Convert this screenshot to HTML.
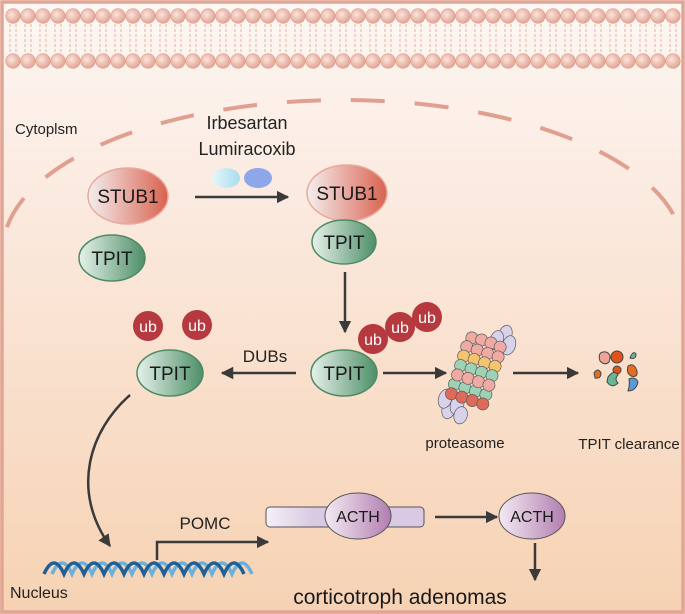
<!DOCTYPE html>
<html><head><meta charset="utf-8"><style>
html,body{margin:0;padding:0;width:685px;height:614px;overflow:hidden;background:#fff}
svg{display:block;font-family:"Liberation Sans",Arial,sans-serif}
</style></head><body>
<svg width="685" height="614" viewBox="0 0 685 614" xmlns="http://www.w3.org/2000/svg">
<defs>
<linearGradient id="bg" x1="0" y1="0" x2="0" y2="1">
<stop offset="0" stop-color="#fdf7f3"/><stop offset="0.35" stop-color="#fbe9de"/><stop offset="1" stop-color="#f6d2b3"/>
</linearGradient>
<radialGradient id="ball" cx="0.4" cy="0.4" r="0.6">
<stop offset="0" stop-color="#fbe4dc"/><stop offset="1" stop-color="#e3a595"/>
</radialGradient>
<linearGradient id="red" x1="0" y1="0" x2="1" y2="0">
<stop offset="0" stop-color="#f4eeee"/><stop offset="1" stop-color="#d9624f"/>
</linearGradient>
<linearGradient id="grn" x1="0" y1="0" x2="1" y2="0">
<stop offset="0" stop-color="#e6f1ea"/><stop offset="1" stop-color="#4e8f68"/>
</linearGradient>
<linearGradient id="pur" x1="0" y1="0" x2="1" y2="0">
<stop offset="0" stop-color="#f3eaf3"/><stop offset="1" stop-color="#b27eb0"/>
</linearGradient>
<linearGradient id="bar" x1="0" y1="0" x2="1" y2="0">
<stop offset="0" stop-color="#f5f0f7"/><stop offset="0.3" stop-color="#d9c9e3"/><stop offset="1" stop-color="#d9c9e3"/>
</linearGradient>
<linearGradient id="pill1" x1="0" y1="0" x2="1" y2="0">
<stop offset="0" stop-color="#e6f6fb"/><stop offset="1" stop-color="#a9dcec"/>
</linearGradient>
<marker id="ah" viewBox="0 0 10 10" refX="9" refY="5" markerWidth="5" markerHeight="5" orient="auto">
<path d="M0,0 L10,5 L0,10 z" fill="#3a3a3a"/>
</marker>
<clipPath id="inner"><rect x="4" y="4" width="677" height="606"/></clipPath>
<clipPath id="arcclip"><rect x="4" y="80" width="677" height="158"/></clipPath>
</defs>
<rect x="0" y="0" width="685" height="614" fill="url(#bg)"/>
<rect x="2" y="2" width="681" height="610" fill="none" stroke="#e2a594" stroke-width="3.5"/>
<g clip-path="url(#inner)">
<path d="M10,24 V54 M16,24 V54 M25,24 V54 M31,24 V54 M40,24 V54 M46,24 V54 M55,24 V54 M61,24 V54 M70,24 V54 M76,24 V54 M85,24 V54 M91,24 V54 M100,24 V54 M106,24 V54 M115,24 V54 M121,24 V54 M130,24 V54 M136,24 V54 M145,24 V54 M151,24 V54 M160,24 V54 M166,24 V54 M175,24 V54 M181,24 V54 M190,24 V54 M196,24 V54 M205,24 V54 M211,24 V54 M220,24 V54 M226,24 V54 M235,24 V54 M241,24 V54 M250,24 V54 M256,24 V54 M265,24 V54 M271,24 V54 M280,24 V54 M286,24 V54 M295,24 V54 M301,24 V54 M310,24 V54 M316,24 V54 M325,24 V54 M331,24 V54 M340,24 V54 M346,24 V54 M355,24 V54 M361,24 V54 M370,24 V54 M376,24 V54 M385,24 V54 M391,24 V54 M400,24 V54 M406,24 V54 M415,24 V54 M421,24 V54 M430,24 V54 M436,24 V54 M445,24 V54 M451,24 V54 M460,24 V54 M466,24 V54 M475,24 V54 M481,24 V54 M490,24 V54 M496,24 V54 M505,24 V54 M511,24 V54 M520,24 V54 M526,24 V54 M535,24 V54 M541,24 V54 M550,24 V54 M556,24 V54 M565,24 V54 M571,24 V54 M580,24 V54 M586,24 V54 M595,24 V54 M601,24 V54 M610,24 V54 M616,24 V54 M625,24 V54 M631,24 V54 M640,24 V54 M646,24 V54 M655,24 V54 M661,24 V54 M670,24 V54 M676,24 V54" stroke="#e6b2a4" stroke-width="1" stroke-dasharray="3 2" fill="none"/>
<g fill="url(#ball)" stroke="#de9e8e" stroke-width="0.6">
<circle cx="13" cy="16" r="7.3"/><circle cx="28" cy="16" r="7.3"/><circle cx="43" cy="16" r="7.3"/><circle cx="58" cy="16" r="7.3"/><circle cx="73" cy="16" r="7.3"/><circle cx="88" cy="16" r="7.3"/><circle cx="103" cy="16" r="7.3"/><circle cx="118" cy="16" r="7.3"/><circle cx="133" cy="16" r="7.3"/><circle cx="148" cy="16" r="7.3"/><circle cx="163" cy="16" r="7.3"/><circle cx="178" cy="16" r="7.3"/><circle cx="193" cy="16" r="7.3"/><circle cx="208" cy="16" r="7.3"/><circle cx="223" cy="16" r="7.3"/><circle cx="238" cy="16" r="7.3"/><circle cx="253" cy="16" r="7.3"/><circle cx="268" cy="16" r="7.3"/><circle cx="283" cy="16" r="7.3"/><circle cx="298" cy="16" r="7.3"/><circle cx="313" cy="16" r="7.3"/><circle cx="328" cy="16" r="7.3"/><circle cx="343" cy="16" r="7.3"/><circle cx="358" cy="16" r="7.3"/><circle cx="373" cy="16" r="7.3"/><circle cx="388" cy="16" r="7.3"/><circle cx="403" cy="16" r="7.3"/><circle cx="418" cy="16" r="7.3"/><circle cx="433" cy="16" r="7.3"/><circle cx="448" cy="16" r="7.3"/><circle cx="463" cy="16" r="7.3"/><circle cx="478" cy="16" r="7.3"/><circle cx="493" cy="16" r="7.3"/><circle cx="508" cy="16" r="7.3"/><circle cx="523" cy="16" r="7.3"/><circle cx="538" cy="16" r="7.3"/><circle cx="553" cy="16" r="7.3"/><circle cx="568" cy="16" r="7.3"/><circle cx="583" cy="16" r="7.3"/><circle cx="598" cy="16" r="7.3"/><circle cx="613" cy="16" r="7.3"/><circle cx="628" cy="16" r="7.3"/><circle cx="643" cy="16" r="7.3"/><circle cx="658" cy="16" r="7.3"/><circle cx="673" cy="16" r="7.3"/>
<circle cx="13" cy="61" r="7.3"/><circle cx="28" cy="61" r="7.3"/><circle cx="43" cy="61" r="7.3"/><circle cx="58" cy="61" r="7.3"/><circle cx="73" cy="61" r="7.3"/><circle cx="88" cy="61" r="7.3"/><circle cx="103" cy="61" r="7.3"/><circle cx="118" cy="61" r="7.3"/><circle cx="133" cy="61" r="7.3"/><circle cx="148" cy="61" r="7.3"/><circle cx="163" cy="61" r="7.3"/><circle cx="178" cy="61" r="7.3"/><circle cx="193" cy="61" r="7.3"/><circle cx="208" cy="61" r="7.3"/><circle cx="223" cy="61" r="7.3"/><circle cx="238" cy="61" r="7.3"/><circle cx="253" cy="61" r="7.3"/><circle cx="268" cy="61" r="7.3"/><circle cx="283" cy="61" r="7.3"/><circle cx="298" cy="61" r="7.3"/><circle cx="313" cy="61" r="7.3"/><circle cx="328" cy="61" r="7.3"/><circle cx="343" cy="61" r="7.3"/><circle cx="358" cy="61" r="7.3"/><circle cx="373" cy="61" r="7.3"/><circle cx="388" cy="61" r="7.3"/><circle cx="403" cy="61" r="7.3"/><circle cx="418" cy="61" r="7.3"/><circle cx="433" cy="61" r="7.3"/><circle cx="448" cy="61" r="7.3"/><circle cx="463" cy="61" r="7.3"/><circle cx="478" cy="61" r="7.3"/><circle cx="493" cy="61" r="7.3"/><circle cx="508" cy="61" r="7.3"/><circle cx="523" cy="61" r="7.3"/><circle cx="538" cy="61" r="7.3"/><circle cx="553" cy="61" r="7.3"/><circle cx="568" cy="61" r="7.3"/><circle cx="583" cy="61" r="7.3"/><circle cx="598" cy="61" r="7.3"/><circle cx="613" cy="61" r="7.3"/><circle cx="628" cy="61" r="7.3"/><circle cx="643" cy="61" r="7.3"/><circle cx="658" cy="61" r="7.3"/><circle cx="673" cy="61" r="7.3"/>
</g>
</g>
<!-- nuclear envelope -->
<ellipse cx="343" cy="250" rx="340" ry="150" fill="none" stroke="#e0a090" stroke-width="4" stroke-dasharray="34 30" stroke-dashoffset="10" clip-path="url(#arcclip)"/>
<!-- labels -->
<text x="15" y="134" font-size="15" fill="#222">Cytoplsm</text>
<text x="247" y="129" font-size="18" fill="#222" text-anchor="middle">Irbesartan</text>
<text x="247" y="155" font-size="18" fill="#222" text-anchor="middle">Lumiracoxib</text>
<ellipse cx="226" cy="178" rx="14" ry="10" fill="url(#pill1)"/>
<ellipse cx="258" cy="178" rx="14" ry="10" fill="#8ea6ea"/>
<g stroke-width="1.5">
<ellipse cx="128" cy="196" rx="40" ry="28" fill="url(#red)" stroke="#e9a99b"/>
<ellipse cx="112" cy="258" rx="33" ry="23" fill="url(#grn)" stroke="#4d8a63"/>
<ellipse cx="347" cy="193" rx="40" ry="28" fill="url(#red)" stroke="#e9a99b"/>
<ellipse cx="344" cy="242" rx="32" ry="22" fill="url(#grn)" stroke="#4d8a63"/>
<ellipse cx="170" cy="373" rx="33" ry="23" fill="url(#grn)" stroke="#4d8a63"/>
<ellipse cx="344" cy="373" rx="33" ry="23" fill="url(#grn)" stroke="#4d8a63"/>
</g>
<g font-size="19" fill="#1a1a1a" text-anchor="middle">
<text x="128" y="203">STUB1</text>
<text x="112" y="265">TPIT</text>
<text x="347" y="200">STUB1</text>
<text x="344" y="249">TPIT</text>
<text x="170" y="380">TPIT</text>
<text x="344" y="380">TPIT</text>
</g>
<g fill="#b5393e"><circle cx="148" cy="326" r="15"/><circle cx="197" cy="325" r="15"/><circle cx="373" cy="339" r="15"/><circle cx="400" cy="327" r="15"/><circle cx="427" cy="317" r="15"/></g>
<g font-size="16" fill="#fff" text-anchor="middle"><text x="148" y="332">ub</text><text x="197" y="331">ub</text><text x="373" y="345">ub</text><text x="400" y="333">ub</text><text x="427" y="323">ub</text></g>
<g stroke="#3a3a3a" stroke-width="2.5" fill="none" marker-end="url(#ah)">
<path d="M195,197 H288"/>
<path d="M345,272 V332"/>
<path d="M296,373 H222"/>
<path d="M383,373 H446"/>
<path d="M513,373 H578"/>
<path d="M130,395 C90,430 70,490 110,546"/>
<path d="M157,560 V542 H268"/>
<path d="M435,517 H497"/>
<path d="M535,543 V580"/>
</g>
<text x="265" y="362" font-size="17" fill="#222" text-anchor="middle">DUBs</text>
<!-- proteasome -->
<g transform="translate(477,372) rotate(18) scale(1.1)" stroke="#555" stroke-width="0.6">
<g fill="#d7d1ea"><ellipse cx="14" cy="-40" rx="6" ry="9"/><ellipse cx="20" cy="-32" rx="6" ry="9"/><ellipse cx="8" cy="-33" rx="6" ry="9"/><ellipse cx="-14" cy="40" rx="6" ry="9"/><ellipse cx="-20" cy="32" rx="6" ry="9"/><ellipse cx="-8" cy="34" rx="6" ry="9"/><ellipse cx="-2" cy="42" rx="6" ry="8"/></g>
<g fill="#eeaaa3"><circle cx="-14" cy="-28" r="5.5"/><circle cx="-5" cy="-29" r="5.5"/><circle cx="4" cy="-29" r="5.5"/><circle cx="13" cy="-28" r="5.5"/><circle cx="-16" cy="-19" r="5.5"/><circle cx="-6" cy="-19" r="5.5"/><circle cx="4" cy="-19" r="5.5"/><circle cx="14" cy="-19" r="5.5"/></g>
<g fill="#f5c46e"><circle cx="-16" cy="-10" r="5.5"/><circle cx="-6" cy="-10" r="5.5"/><circle cx="4" cy="-10" r="5.5"/><circle cx="14" cy="-10" r="5.5"/></g>
<g fill="#9ed2b4"><circle cx="-16" cy="-1" r="5.5"/><circle cx="-6" cy="-1" r="5.5"/><circle cx="4" cy="-1" r="5.5"/><circle cx="14" cy="-1" r="5.5"/><circle cx="-16" cy="17" r="5.5"/><circle cx="-6" cy="17" r="5.5"/><circle cx="4" cy="17" r="5.5"/><circle cx="14" cy="17" r="5.5"/></g>
<g fill="#eeaaa3"><circle cx="-16" cy="8" r="5.5"/><circle cx="-6" cy="8" r="5.5"/><circle cx="4" cy="8" r="5.5"/><circle cx="14" cy="8" r="5.5"/></g>
<g fill="#de6b5a"><circle cx="-16" cy="26" r="5.5"/><circle cx="-6" cy="26" r="5.5"/><circle cx="4" cy="26" r="5.5"/><circle cx="14" cy="26" r="5.5"/></g>
</g>
<g stroke="#444" stroke-width="1">
<path d="M600,361 q-3,-10 6,-9 q6,2 3,10 q-4,4 -9,-1z" fill="#eea399"/>
<circle cx="617" cy="357" r="6" fill="#e0541c"/>
<path d="M630,358 q3,-8 6,-4 q0,6 -6,4z" fill="#6ab497"/>
<circle cx="617" cy="370" r="4" fill="#e0541c"/>
<path d="M628,366 q6,-4 9,5 q1,7 -6,5 q-5,-3 -3,-10z" fill="#e07020"/>
<path d="M594,373 q4,-6 7,0 q0,6 -6,5z" fill="#e07020"/>
<path d="M608,377 q6,-8 10,-2 q-4,4 0,8 q-6,6 -11,-1z" fill="#6ab497"/>
<path d="M629,379 q6,-3 9,3 q-2,9 -10,9 q2,-6 1,-12z" fill="#5a9bd5"/>
</g>
<text x="465" y="448" font-size="15" fill="#222" text-anchor="middle">proteasome</text>
<text x="629" y="449" font-size="15" fill="#222" text-anchor="middle">TPIT clearance</text>
<!-- DNA -->
<g fill="none" stroke-width="3.5">
<path d="M52,574 Q62,552 72,574 Q82,552 92,574 Q102,552 112,574 Q122,552 132,574 Q142,552 152,574 Q162,552 172,574 Q182,552 192,574 Q202,552 212,574 Q222,552 232,574 Q242,552 252,574" stroke="#6ab0dc"/>
<path d="M44,574 Q54,552 64,574 Q74,552 84,574 Q94,552 104,574 Q114,552 124,574 Q134,552 144,574 Q154,552 164,574 Q174,552 184,574 Q194,552 204,574 Q214,552 224,574 Q234,552 244,574" stroke="#1f5f97"/>
</g>
<text x="10" y="598" font-size="16" fill="#222">Nucleus</text>
<text x="205" y="529" font-size="17" fill="#222" text-anchor="middle">POMC</text>
<rect x="266" y="507" width="158" height="20" rx="4" fill="url(#bar)" stroke="#555" stroke-width="1"/>
<ellipse cx="358" cy="516" rx="33" ry="23" fill="url(#pur)" stroke="#555" stroke-width="1"/>
<text x="358" y="522" font-size="16" fill="#1a1a1a" text-anchor="middle">ACTH</text>
<ellipse cx="532" cy="516" rx="33" ry="23" fill="url(#pur)" stroke="#555" stroke-width="1"/>
<text x="532" y="522" font-size="16" fill="#1a1a1a" text-anchor="middle">ACTH</text>
<text x="400" y="604" font-size="21" fill="#1a1a1a" text-anchor="middle">corticotroph adenomas</text>
</svg>
</body></html>
